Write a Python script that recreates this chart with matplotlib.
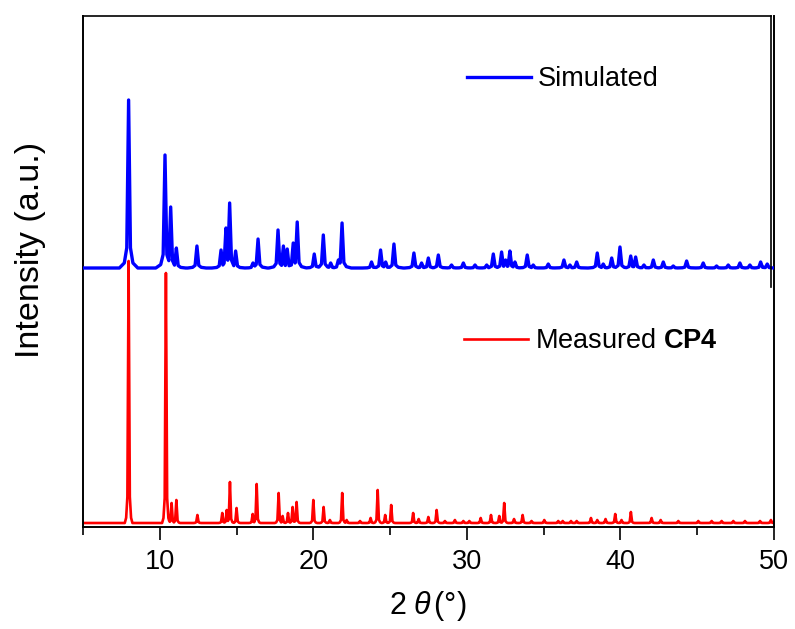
import numpy as np
import matplotlib.pyplot as plt

plt.rcParams['font.family'] = ['Liberation Sans', 'DejaVu Sans']
plt.rcParams['mathtext.fontset'] = 'custom'
plt.rcParams['mathtext.rm'] = 'Liberation Sans'
plt.rcParams['mathtext.it'] = 'Liberation Sans:italic'
plt.rcParams['mathtext.bf'] = 'Liberation Sans:bold'

# simulated pattern: peak positions (2theta, deg) and heights (a.u.)
sim_pos = [7.97, 10.34, 10.71, 11.08, 12.42, 13.99, 14.31, 14.55, 14.94, 16.07,
           16.40, 17.70, 18.05, 18.30, 18.69, 18.95, 20.06, 20.65, 21.13, 21.63,
           21.87, 23.79, 24.38, 24.71, 25.25, 26.55, 27.05, 27.49, 28.14, 29.00,
           29.77, 30.53, 31.29, 31.72, 32.26, 32.52, 32.80, 33.13, 33.93, 34.32,
           35.30, 36.32, 36.71, 37.15, 38.49, 38.88, 39.43, 39.97, 40.67, 40.99,
           41.53, 42.14, 42.79, 43.44, 44.31, 45.39, 46.26, 47.02, 47.78, 48.43,
           49.13, 49.56]
sim_h = [168, 113, 61, 20, 22, 18, 40, 65, 17, 5,
         29, 38, 22, 19, 25, 46, 14, 33, 5, 8,
         45, 6, 18, 6, 24, 15, 5, 10, 13, 3,
         5, 3, 3, 14, 16, 8, 17, 6, 13, 3,
         4, 8, 3, 6, 15, 4, 10, 21, 12, 11,
         3, 8, 6, 2, 7, 5, 2, 3, 5, 3,
         6, 4]

# measured CP4 pattern
meas_pos = [7.97, 10.40, 10.77, 11.08, 12.45, 14.07, 14.36, 14.57, 15.00, 16.05,
            16.31, 17.74, 18.00, 18.35, 18.65, 18.91, 20.00, 20.67, 21.08, 21.88,
            22.17, 23.04, 23.73, 24.19, 24.68, 25.07, 26.50, 26.86, 27.49, 28.03,
            28.57, 29.22, 29.77, 30.16, 30.90, 31.57, 32.11, 32.43, 33.07, 33.63,
            34.21, 35.04, 35.95, 36.24, 36.78, 37.15, 38.08, 38.49, 39.03, 39.66,
            40.07, 40.68, 42.03, 42.62, 43.77, 45.07, 45.94, 46.59, 47.35, 48.11,
            49.09, 49.80]
meas_h = [262, 250, 20, 23, 8, 10, 13, 41, 15, 9,
          39, 30, 7, 10, 16, 21, 23, 16, 3, 30,
          3, 2, 5, 33, 8, 18, 10, 4, 6, 13,
          2, 3, 2, 2, 5, 8, 7, 20, 4, 8,
          2, 3, 2, 2, 2, 2, 5, 3, 4, 9,
          3, 11, 5, 3, 2, 2, 2, 2, 2, 2,
          2, 3]

sim_offset = 255
x_min, x_max = 5, 50


def pattern(pos, h, w1, w2, w3, k1, k2):
    # peak shape vertices, upper envelope of all peaks
    xs = [x_min, x_max]
    for p in pos:
        xs += [p - w3, p - w2, p - w1, p, p + w1, p + w2, p + w3]
    xs = np.unique(np.clip(xs, x_min, x_max))
    ys = np.zeros_like(xs)
    for p, hh in zip(pos, h):
        px = [p - w3, p - w2, p - w1, p, p + w1, p + w2, p + w3]
        py = [0, k2 * hh, k1 * hh, hh, k1 * hh, k2 * hh, 0]
        ys = np.maximum(ys, np.interp(xs, px, py, left=0, right=0))
    return xs, ys


sx, sy = pattern(sim_pos, sim_h, 0.12, 0.28, 0.6, 0.12, 0.03)
mx, my = pattern(meas_pos, meas_h, 0.08, 0.16, 0.25, 0.1, 0.02)

fig = plt.figure(figsize=(7.95, 6.29), dpi=100)
ax = fig.add_axes([83 / 795, 102 / 629, 691 / 795, 511 / 629])

l2, = ax.plot(mx, my, color='#ff0000', lw=1.9, zorder=2)
l1, = ax.plot(sx, sy + sim_offset, color='#0000ff', lw=2.4, zorder=3)

ax.set_xlim(x_min, x_max)
ax.set_ylim(-4, 507)
ax.set_xticks([10, 20, 30, 40, 50])
ax.set_xticks([5, 15, 25, 35, 45], minor=True)
ax.set_yticks([])
ax.tick_params(axis='x', which='major', direction='out', length=9.5, width=1.2,
               labelsize=19.5, pad=6.5)
ax.tick_params(axis='x', which='minor', direction='out', length=5.5, width=1.2)
ax.spines['top'].set_visible(False)
for s in ['left', 'bottom', 'right']:
    ax.spines[s].set_linewidth(1.4)

# upper frame of the simulated panel
ax2 = fig.add_axes([83 / 795, 342 / 629, 688 / 795, 271 / 629])
ax2.patch.set_alpha(0)
ax2.set_xticks([])
ax2.set_yticks([])
for s in ['left', 'bottom']:
    ax2.spines[s].set_visible(False)
for s in ['top', 'right']:
    ax2.spines[s].set_linewidth(1.2)

leg1 = ax.legend([l1], ['Simulated'], loc='center left', bbox_to_anchor=(0.5557, 0.8767),
                 frameon=False, fontsize=19.5, handlelength=2.35, handletextpad=0.28,
                 borderpad=0, borderaxespad=0)
ax.add_artist(leg1)
ax.legend([l2], [r'Measured $\mathbf{CP4}$'], loc='center left',
          bbox_to_anchor=(0.5514, 0.364), frameon=False, fontsize=19.5,
          handlelength=2.35, handletextpad=0.28, borderpad=0, borderaxespad=0)

fig.text(31 / 795, 1 - 250 / 629, 'Intensity (a.u.)', rotation=90,
         ha='center', va='center', fontsize=24.5)
fig.text(428 / 795, 1 - 606 / 629, r'2$\;\theta\,$(°)', ha='center', va='center',
         fontsize=22)

fig.savefig('out.png', dpi=100)
